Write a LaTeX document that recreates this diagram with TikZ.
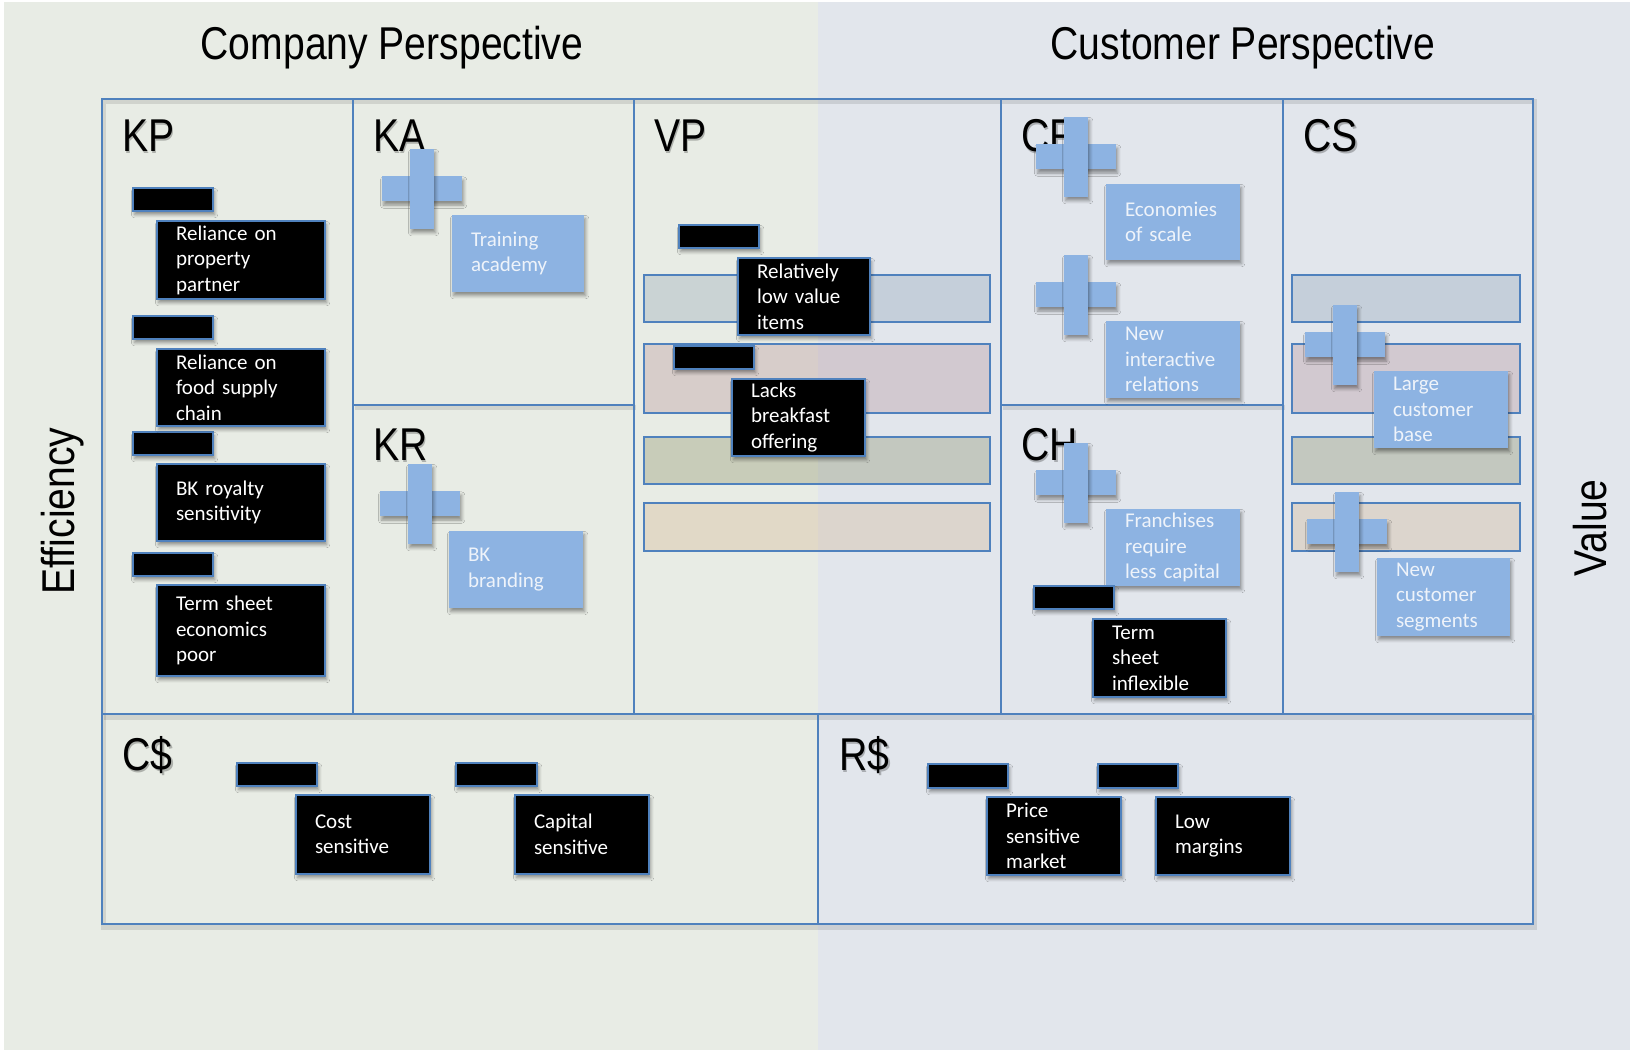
\documentclass[tikz,border=0pt]{standalone}
\usepackage{fontspec}
\setmainfont{Carlito}
\newfontfamily\headfont[FakeStretch=0.85]{Liberation Sans}
\usetikzlibrary{shadows.blur}

\definecolor{bgL}{RGB}{232,236,229}
\definecolor{bgR}{RGB}{226,230,236}
\definecolor{frameblue}{RGB}{79,129,189}
\definecolor{noteblue}{RGB}{141,179,226}
\definecolor{notetext}{RGB}{238,243,250}
\definecolor{bandA}{RGB}{113,139,165}
\definecolor{bandB}{RGB}{165,115,125}
\definecolor{bandC}{RGB}{105,111,57}
\definecolor{bandD}{RGB}{205,163,113}

\tikzset{
  grid/.style={draw=frameblue, line width=1.25pt},
  gridshade/.style={draw=black, draw opacity=0.10, line width=2.5pt},
  softshadow/.style={blur shadow={shadow xshift=0.8pt, shadow yshift=-1.8pt,
      shadow blur radius=1.6pt, shadow opacity=40}},
  cardtext/.style={inner xsep=9.5pt, inner ysep=0pt, align=left,
      font=\fontsize{10.5pt}{12.75pt}\selectfont},
  blackcard/.style={cardtext, draw=frameblue, line width=1pt, fill=black,
      text=white, softshadow},
  bluecard/.style={cardtext, fill=noteblue, text=notetext, softshadow},
  tabbox/.style={draw=frameblue, line width=1pt, fill=black, inner sep=0pt,
      softshadow},
  crossbar/.style={fill=noteblue, inner sep=0pt, softshadow},
  band/.style={draw=frameblue, line width=1pt, fill opacity=0.25},
  headline/.style={font=\headfont\fontsize{23pt}{26pt}\selectfont, inner sep=0pt},
  cellname/.style={headline, anchor=base west},
}

% card with text: name, style, x1, y1, x2, y2, text
\newcommand\notecard[7]{%
  \node[#2, minimum width={(#5-#3)*0.5pt}, minimum height={(#6-#4)*0.5pt},
        text width={(#5-#3)*0.5pt-19pt}] (#1) at ({(#3+#5)/2},{(#4+#6)/2}) {#7};}
% empty black tab: name, x1, y1, x2, y2
\newcommand\tabnote[5]{%
  \node[tabbox, minimum width={(#4-#2)*0.5pt}, minimum height={(#5-#3)*0.5pt}]
        (#1) at ({(#2+#4)/2},{(#3+#5)/2}) {};}
% plus mark: name, centre x, centre y
\newcommand\plusmark[3]{%
  \node[crossbar, minimum width=40pt, minimum height=12.5pt] (#1h) at (#2,#3) {};
  \node[crossbar, minimum width=12pt, minimum height=40pt] (#1v) at (#2,#3) {};}
% section label with a light drop shadow: name, x, baseline y, text
\newcommand\cellhead[4]{%
  \node[cellname, text=black, opacity=0.25] at ({#2+1.5},{#3+2}) {#4};
  \node[cellname] (#1) at (#2,#3) {#4};}

\begin{document}
\begin{tikzpicture}[x=0.5pt, y=-0.5pt]
  % canvas
  \fill[white] (0,0) rectangle (1632,1052);
  \useasboundingbox (0,0) rectangle (1632,1052);
  \fill[bgL] (4,2) rectangle (818,1050);
  \fill[bgR] (818,2) rectangle (1630,1050);

  % perspective titles and axis words
  \node[headline, anchor=base] (company) at (392,60) {Company Perspective};
  \node[headline, anchor=base] (customer) at (1243,60) {Customer Perspective};
  \node[headline, rotate=90] (efficiency) at (63,511) {Efficiency};
  \node[headline, rotate=90] (value) at (1590,528) {Value};

  % shadow under the grid lines
  \begin{scope}[shift={(1.5,3)}]
    \draw[gridshade] (102,99) rectangle (1533,924);
    \draw[gridshade] (102,714) -- (1533,714);
    \draw[gridshade] (353,405) -- (634,405);
    \draw[gridshade] (1001,405) -- (1283,405);
  \end{scope}

  % canvas grid
  \draw[grid] (102,99) rectangle (1533,924);
  \draw[grid] (102,714) -- (1533,714);
  \foreach \gx in {353,634,1001,1283} \draw[grid] (\gx,99) -- (\gx,714);
  \draw[grid] (353,405) -- (634,405);
  \draw[grid] (1001,405) -- (1283,405);
  \draw[grid] (818,714) -- (818,924);

  % coloured bands in VP and CS
  \foreach \bx/\ex in {644/990, 1292/1520} {
    \draw[band, fill=bandA] (\bx,275) rectangle (\ex,322);
    \draw[band, fill=bandB] (\bx,344) rectangle (\ex,413);
    \draw[band, fill=bandC] (\bx,437) rectangle (\ex,484);
    \draw[band, fill=bandD] (\bx,503) rectangle (\ex,551);
  }

  % cell names
  \cellhead{kp}{122}{152}{KP}
  \cellhead{ka}{373}{152}{KA}
  \cellhead{vp}{654}{152}{VP}
  \cellhead{cr}{1021}{152}{CR}
  \cellhead{cs}{1303}{152}{CS}
  \cellhead{kr}{373}{461}{KR}
  \cellhead{ch}{1021}{461}{CH}
  \cellhead{cost}{122}{770}{C\$}
  \cellhead{rev}{839}{770}{R\$}

  % plus marks
  \plusmark{pka}{422}{189}
  \plusmark{pkr}{420}{504}
  \plusmark{pcra}{1076}{157}
  \plusmark{pcrb}{1076}{295}
  \plusmark{pch}{1076}{483}
  \plusmark{pcsa}{1345}{345}
  \plusmark{pcsb}{1347}{532}

  % strengths
  \notecard{ka1}{bluecard}{452}{215}{584}{292}{Training\\academy}
  \notecard{kr1}{bluecard}{449}{531}{583}{608}{BK\\branding}
  \notecard{cr1}{bluecard}{1106}{184}{1240}{260}{Economies\\of scale}
  \notecard{cr2}{bluecard}{1106}{321}{1240}{398}{New\\interactive\\relations}
  \notecard{ch1}{bluecard}{1106}{509}{1240}{586}{Franchises\\require\\less capital}
  \notecard{cs1}{bluecard}{1374}{371}{1508}{448}{Large\\customer\\base}
  \notecard{cs2}{bluecard}{1377}{558}{1510}{636}{New\\customer\\segments}

  % weaknesses: tabs
  \tabnote{kpt1}{133}{188}{213}{211}
  \tabnote{kpt2}{133}{316}{213}{339}
  \tabnote{kpt3}{133}{432}{213}{455}
  \tabnote{kpt4}{133}{553}{213}{576}
  \tabnote{vpt1}{679}{225}{759}{248}
  \tabnote{vpt2}{674}{346}{754}{369}
  \tabnote{cht1}{1034}{586}{1114}{609}
  \tabnote{ct1}{237}{763}{317}{786}
  \tabnote{ct2}{456}{763}{537}{786}
  \tabnote{rt1}{928}{764}{1008}{788}
  \tabnote{rt2}{1098}{764}{1178}{788}

  % weaknesses: notes
  \notecard{kp1}{blackcard}{157}{221}{325}{299}{Reliance on\\property\\partner}
  \notecard{kp2}{blackcard}{157}{349}{325}{426}{Reliance on\\food supply\\chain}
  \notecard{kp3}{blackcard}{157}{464}{325}{541}{BK royalty\\sensitivity}
  \notecard{kp4}{blackcard}{157}{585}{325}{676}{Term sheet\\economics\\poor}
  \notecard{vp1}{blackcard}{738}{258}{870}{335}{Relatively\\low value\\items}
  \notecard{vp2}{blackcard}{732}{379}{865}{456}{Lacks\\breakfast\\offering}
  \notecard{ch2}{blackcard}{1093}{619}{1226}{697}{Term\\sheet\\inflexible}
  \notecard{c1}{blackcard}{296}{795}{430}{874}{Cost\\sensitive}
  \notecard{c2}{blackcard}{515}{795}{649}{874}{Capital\\sensitive}
  \notecard{r1}{blackcard}{987}{797}{1121}{875}{Price\\sensitive\\market}
  \notecard{r2}{blackcard}{1156}{797}{1290}{875}{Low\\margins}
\end{tikzpicture}
\end{document}
